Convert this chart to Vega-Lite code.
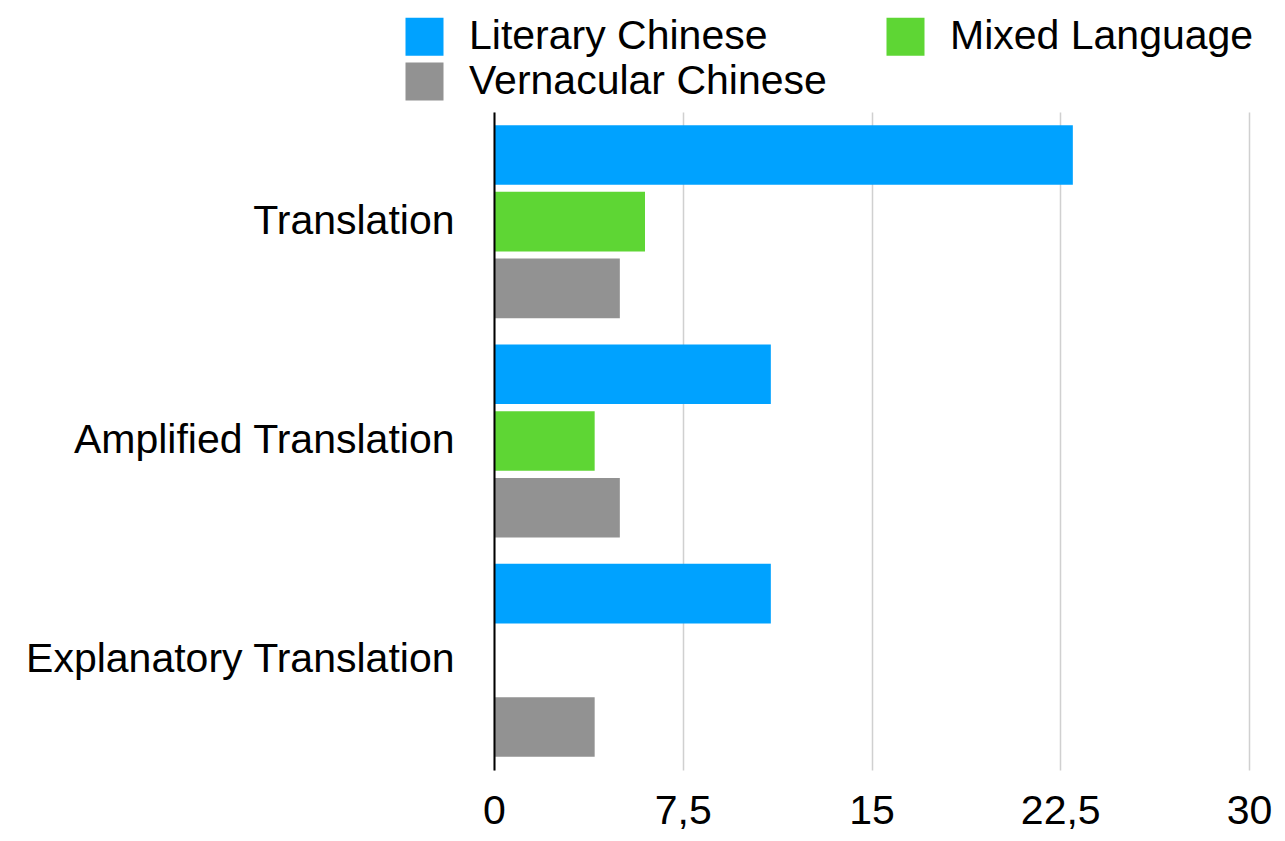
{
  "$schema": "https://vega.github.io/schema/vega-lite/v6.json",
  "width": 755,
  "height": 658,
  "autosize": {"type": "none"},
  "padding": {"left": 494, "top": 112, "right": 36, "bottom": 71},
  "background": "white",
  "data": {
    "values": [
      {"category": "Translation", "language": "Literary Chinese", "value": 23},
      {"category": "Translation", "language": "Mixed Language", "value": 6},
      {"category": "Translation", "language": "Vernacular Chinese", "value": 5},
      {"category": "Amplified Translation", "language": "Literary Chinese", "value": 11},
      {"category": "Amplified Translation", "language": "Mixed Language", "value": 4},
      {"category": "Amplified Translation", "language": "Vernacular Chinese", "value": 5},
      {"category": "Explanatory Translation", "language": "Literary Chinese", "value": 11},
      {"category": "Explanatory Translation", "language": "Mixed Language", "value": 0},
      {"category": "Explanatory Translation", "language": "Vernacular Chinese", "value": 4}
    ]
  },
  "mark": {"type": "bar"},
  "encoding": {
    "y": {
      "field": "category",
      "type": "nominal",
      "sort": ["Translation", "Amplified Translation", "Explanatory Translation"],
      "scale": {"paddingInner": 0.12, "paddingOuter": 0.06},
      "axis": {
        "title": null,
        "domain": true,
        "domainColor": "#000000",
        "domainWidth": 2,
        "ticks": false,
        "labelFont": "Liberation Sans",
        "labelFontSize": 41,
        "labelColor": "#000000",
        "labelPadding": 40,
        "labelLimit": 600,
        "zindex": 1
      }
    },
    "yOffset": {
      "field": "language",
      "type": "nominal",
      "sort": ["Literary Chinese", "Mixed Language", "Vernacular Chinese"],
      "scale": {"paddingInner": 0.106, "paddingOuter": 0}
    },
    "x": {
      "field": "value",
      "type": "quantitative",
      "scale": {"domain": [0, 30], "nice": false},
      "axis": {
        "title": null,
        "values": [0, 7.5, 15, 22.5, 30],
        "format": "~g",
        "labelExpr": "replace(format(datum.value, '~g'), '.', ',')",
        "domain": false,
        "ticks": false,
        "grid": true,
        "gridColor": "#d0d0d0",
        "gridWidth": 1.5,
        "labelFont": "Liberation Sans",
        "labelFontSize": 41,
        "labelColor": "#000000",
        "labelPadding": 21,
        "labelFlush": false
      }
    },
    "color": {
      "field": "language",
      "type": "nominal",
      "sort": ["Literary Chinese", "Mixed Language", "Vernacular Chinese"],
      "scale": {
        "domain": ["Literary Chinese", "Mixed Language", "Vernacular Chinese"],
        "range": ["#00A2FF", "#5ED634", "#929292"]
      },
      "legend": {
        "title": null,
        "orient": "none",
        "legendX": -90,
        "legendY": -96,
        "direction": "horizontal",
        "columns": 2,
        "symbolType": "square",
        "symbolSize": 1444,
        "symbolStrokeWidth": 0,
        "symbolOpacity": 1,
        "labelFont": "Liberation Sans",
        "labelFontSize": 41,
        "labelColor": "#000000",
        "labelOffset": 24,
        "labelLimit": 600,
        "columnPadding": 58,
        "rowPadding": 3
      }
    }
  },
  "config": {"view": {"stroke": null}}
}
